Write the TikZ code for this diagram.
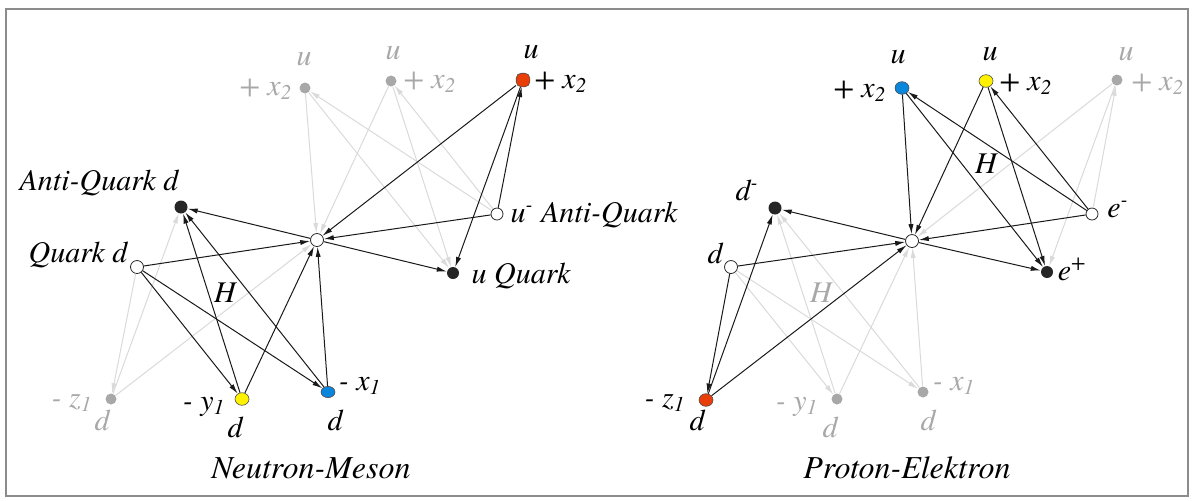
\documentclass[tikz,border=0pt]{standalone}
\usepackage{fontspec}
\newfontfamily\diagfont{texgyretermes-italic.otf}
\usepackage{xcolor}
\usetikzlibrary{arrows.meta, shapes.geometric}

\definecolor{dotred}{HTML}{E83F0A}
\definecolor{dotblue}{HTML}{0A86DC}
\definecolor{dotyellow}{HTML}{FFF200}
\definecolor{ghost}{HTML}{A8A8A8}
\definecolor{ghostline}{HTML}{DADADA}
\definecolor{framegray}{HTML}{8C8C8C}

\begin{document}
\begin{tikzpicture}[
	x=0.5pt, y=-0.5pt,
	>={Latex[length=5pt,width=2.6pt]},
	lbl/.style={font=\diagfont\fontsize{15}{18}\selectfont, anchor=base, inner sep=0pt},
	glbl/.style={lbl, text=ghost},
	headline/.style={font=\diagfont\fontsize{16}{19}\selectfont, anchor=base, inner sep=0pt},
	wdot/.style={circle, draw=black!85, line width=0.4pt, fill=white,
		inner sep=0pt, minimum size=6.5pt},
	bdot/.style={circle, fill=black!85, inner sep=0pt, minimum size=6.5pt},
	cdot/.style={ellipse, draw=black!70, line width=0.3pt, inner sep=0pt,
		minimum width=7pt, minimum height=6.3pt},
	sqdot/.style={draw=black!70, line width=0.3pt, fill=dotred, rounded corners=2.5pt,
		inner sep=0pt, minimum size=6.8pt},
	gdot/.style={circle, fill=ghost, inner sep=0pt, minimum size=5.5pt},
	conn/.style={->, line width=0.5pt, black!90},
	gconn/.style={->, line width=0.5pt, ghostline}
	]
	\useasboundingbox (0,0) rectangle (1192,500);
	\draw[framegray, line width=1pt] (6,9) rectangle (1188,496);
	
	%--- Neutron-Meson: nodes --------------------------------------------------
	\node[wdot] (nC) at (317,240) {};
	\node[bdot] (nAQ) at (181,207) {};
	\node[wdot] (nQ) at (137,267) {};
	\node[cdot, fill=dotyellow] (nY) at (242,399) {};
	\node[cdot, fill=dotblue, minimum height=5.6pt] (nB) at (328,392) {};
	\node[gdot] (nZ) at (111,399) {};
	\node[bdot, minimum size=6pt] (nUQ) at (453,273) {};
	\node[wdot, minimum size=6pt] (nAU) at (497,214) {};
	\node[sqdot] (nR) at (523,80) {};
	\node[gdot] (nG1) at (305,88) {};
	\node[gdot] (nG2) at (391,81) {};
	
	%--- Neutron-Meson: pale connectors ---------------------------------------
	\draw[gconn] (nG1) -- (nC);
	\draw[gconn] (nG2) -- (nC);
	\draw[gconn] (nAU) -- (nG1);
	\draw[gconn] (nAU) -- (nG2);
	\draw[gconn] (nG1) -- (nUQ);
	\draw[gconn] (nG2) -- (nUQ);
	\draw[gconn] (nQ) -- (nZ);
	\draw[gconn] (nZ) -- (nAQ);
	\draw[gconn] (nZ) -- (nC);
	
	%--- Neutron-Meson: connectors --------------------------------------------
	\draw[conn] (nC) -- (nAQ);
	\draw[conn] (nQ) -- (nC);
	\draw[conn] (nC) -- (nUQ);
	\draw[conn] (nAU) -- (nC);
	\draw[conn] (nR) -- (nC);
	\draw[conn] (nAU) -- (nR);
	\draw[conn] (nR) -- (nUQ);
	\draw[conn] (nQ) -- (nY);
	\draw[conn] (nQ) -- (nB);
	\draw[conn] (nY) -- (nAQ);
	\draw[conn] (nB) -- (nAQ);
	\draw[conn] (nY) -- (nC);
	\draw[conn] (nB) -- (nC);
	
	%--- Neutron-Meson: labels ------------------------------------------------
	\node[lbl] (nAQlbl) at (99,190) {Anti-Quark d};
	\node[lbl] (nQlbl) at (78,262) {Quark d};
	\node[lbl] (nH) at (225,302) {H};
	\node[lbl] (nYlbl) at (204,410) {- y\textsubscript{1}};
	\node[lbl] (nYd) at (235,437) {d};
	\node[lbl] (nBlbl) at (360,390) {- x\textsubscript{1}};
	\node[lbl] (nBd) at (335,430) {d};
	\node[glbl] (nZlbl) at (72,407) {- z\textsubscript{1}};
	\node[glbl] (nZd) at (102,430) {d};
	\node[lbl] (nUQlbl) at (521,283) {u Quark};
	\node[lbl] (nAUlbl) at (594,222) {u\textsuperscript{-} Anti-Quark};
	\node[lbl] (nRu) at (531,58) {u};
	\node[lbl] (nRlbl) at (561,88) {+ x\textsubscript{2}};
	\node[glbl] (nG1u) at (304,65) {u};
	\node[glbl] (nG1lbl) at (266,95) {+ x\textsubscript{2}};
	\node[glbl] (nG2u) at (393,59) {u};
	\node[glbl] (nG2lbl) at (430,88) {+ x\textsubscript{2}};
	\node[headline] (nTitle) at (311,478) {Neutron-Meson};
	
	%--- Proton-Elektron: nodes -----------------------------------------------
	\node[wdot] (pC) at (912,241) {};
	\node[bdot] (pAD) at (775,208) {};
	\node[wdot] (pQ) at (731,267) {};
	\node[cdot, fill=dotred] (pZ) at (706,400) {};
	\node[gdot] (pY) at (837,399) {};
	\node[gdot] (pX) at (923,392) {};
	\node[bdot, minimum size=6pt] (pEP) at (1047,272) {};
	\node[wdot, minimum size=6pt] (pEM) at (1092,214) {};
	\node[cdot, fill=dotblue] (pBU) at (902,88) {};
	\node[cdot, fill=dotyellow] (pYU) at (986,81) {};
	\node[gdot] (pGU) at (1117,80) {};
	
	%--- Proton-Elektron: pale connectors -------------------------------------
	\draw[gconn] (pGU) -- (pC);
	\draw[gconn] (pEM) -- (pGU);
	\draw[gconn] (pGU) -- (pEP);
	\draw[gconn] (pQ) -- (pY);
	\draw[gconn] (pQ) -- (pX);
	\draw[gconn] (pY) -- (pAD);
	\draw[gconn] (pX) -- (pAD);
	\draw[gconn] (pY) -- (pC);
	\draw[gconn] (pX) -- (pC);
	
	%--- Proton-Elektron: connectors ------------------------------------------
	\draw[conn] (pC) -- (pAD);
	\draw[conn] (pQ) -- (pC);
	\draw[conn] (pC) -- (pEP);
	\draw[conn] (pEM) -- (pC);
	\draw[conn] (pQ) -- (pZ);
	\draw[conn] (pZ) -- (pAD);
	\draw[conn] (pZ) -- (pC);
	\draw[conn] (pBU) -- (pC);
	\draw[conn] (pYU) -- (pC);
	\draw[conn] (pBU) -- (pEP);
	\draw[conn] (pYU) -- (pEP);
	\draw[conn] (pEM) -- (pBU);
	\draw[conn] (pEM) -- (pYU);
	
	%--- Proton-Elektron: labels ----------------------------------------------
	\node[lbl] (pADlbl) at (747,200) {d\textsuperscript{-}};
	\node[lbl] (pQlbl) at (715,263) {d};
	\node[lbl] (pZlbl) at (665,407) {- z\textsubscript{1}};
	\node[lbl] (pZd) at (697,430) {d};
	\node[glbl] (pYlbl) at (797,410) {- y\textsubscript{1}};
	\node[glbl] (pYd) at (830,437) {d};
	\node[glbl] (pXlbl) at (954,390) {- x\textsubscript{1}};
	\node[glbl] (pXd) at (928,430) {d};
	\node[glbl] (pH) at (821,302) {H};
	\node[lbl] (pHtop) at (986,173) {H};
	\node[lbl] (pEPlbl) at (1072,280) {e\textsuperscript{+}};
	\node[lbl] (pEMlbl) at (1118,217) {e\textsuperscript{-}};
	\node[lbl] (pBUu) at (898,63) {u};
	\node[lbl] (pBUlbl) at (860,97) {+ x\textsubscript{2}};
	\node[lbl] (pYUu) at (990,60) {u};
	\node[lbl] (pYUlbl) at (1026,90) {+ x\textsubscript{2}};
	\node[glbl] (pGUu) at (1126,60) {u};
	\node[glbl] (pGUlbl) at (1158,90) {+ x\textsubscript{2}};
	\node[headline] (pTitle) at (907,478) {Proton-Elektron};
\end{tikzpicture}
\end{document}
